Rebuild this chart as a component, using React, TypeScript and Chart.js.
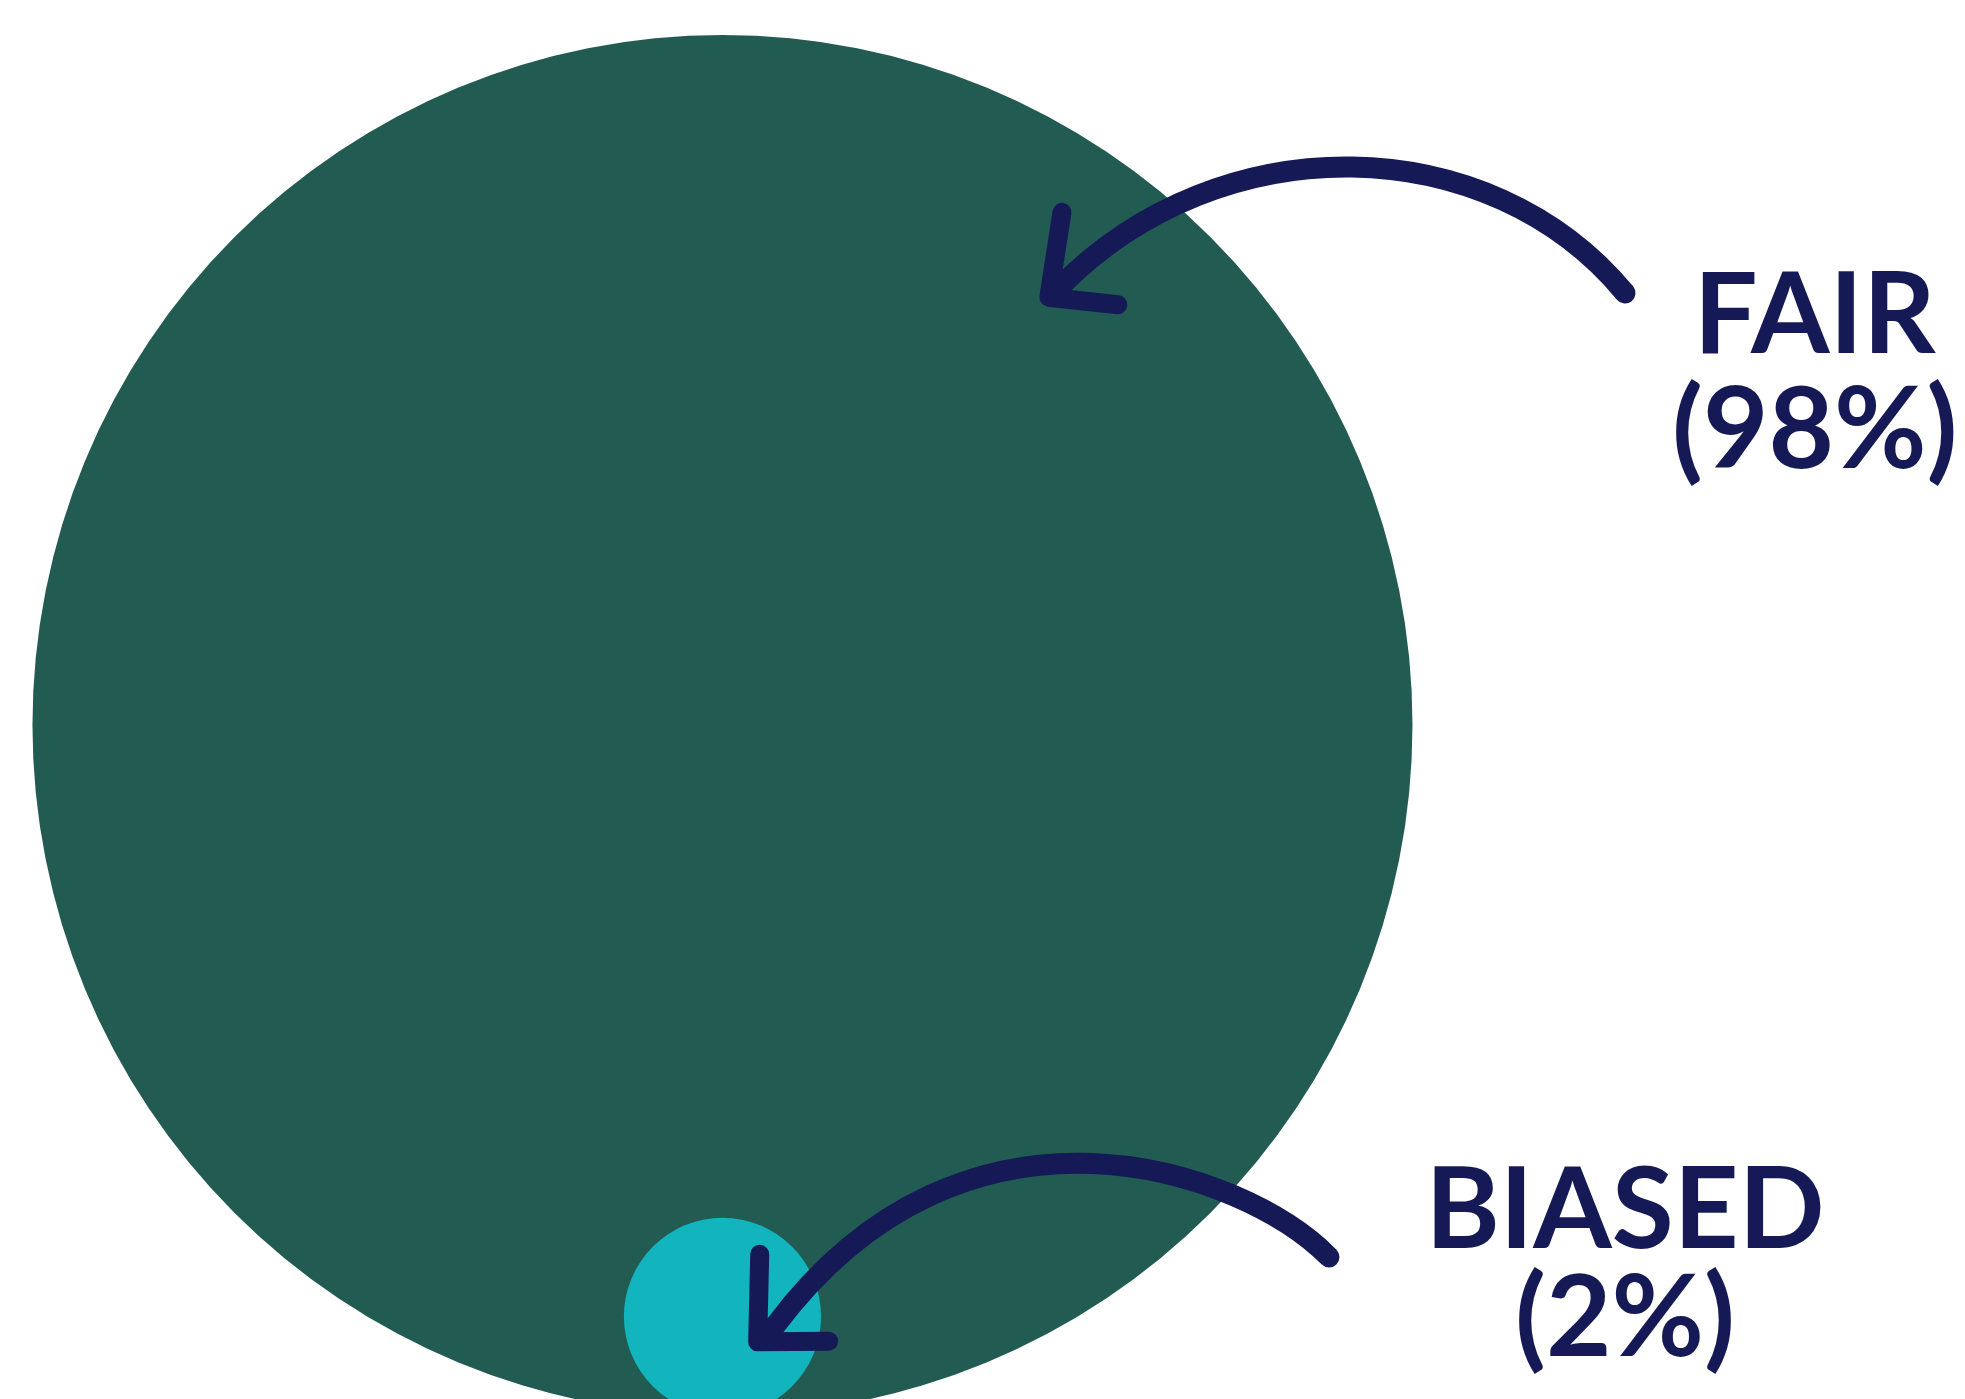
import React, { useEffect, useRef } from "react";
import { Chart, registerables } from "chart.js";

Chart.register(...registerables);

// ---- data ----
const categories = ["FAIR", "BIASED"];
const shares = [98, 2];
const labelLines = [
  ["FAIR", "(98%)"],
  ["BIASED", "(2%)"],
];

// ---- styles ----
const bubbleColors = ["#225B51", "#12B5BE"];
const inkColor = "#151A56";
const fontFamily = "Lato, 'Noto Sans', sans-serif";

// ---- scale ranges (data units: 1 unit = radius of the largest bubble) ----
const X_MIN = -1.047;
const X_MAX = 1.8007;
const Y_MIN = 0.0232;
const Y_MAX = 2.0507;

// ---- annotation geometry, in scale (data) units ----
// shaft: cubic bezier [p0, c1, c2, p3]; head: [upEnd, corner, sideEnd]; label: [x, baseline1, baseline2]
const arrows = [
  {
    shaft: [[1.308, 1.626], [1.111, 1.864], [0.7225, 1.872], [0.489, 1.635]],
    head: [[0.492, 1.743], [0.473, 1.62], [0.573, 1.609]],
    label: [1.583, 1.539, 1.372],
  },
  {
    shaft: [[0.879, 0.229], [0.756, 0.354], [0.353, 0.499], [0.076, 0.129]],
    head: [[0.054, 0.233], [0.051, 0.106], [0.154, 0.107]],
    label: [1.308, 0.242, 0.0855],
  },
];

const annotationPlugin = {
  id: "annotations",
  afterDatasetsDraw(chart: any) {
    const { ctx } = chart;
    const xs = chart.scales.x;
    const ys = chart.scales.y;
    const P = (p: number[]) => [xs.getPixelForValue(p[0]), ys.getPixelForValue(p[1])];
    ctx.save();
    ctx.strokeStyle = inkColor;
    ctx.fillStyle = inkColor;
    ctx.lineCap = "round";
    ctx.lineJoin = "round";
    arrows.forEach((a, i) => {
      const [p0, c1, c2, p3] = a.shaft.map(P);
      ctx.lineWidth = 21;
      ctx.beginPath();
      ctx.moveTo(p0[0], p0[1]);
      ctx.bezierCurveTo(c1[0], c1[1], c2[0], c2[1], p3[0], p3[1]);
      ctx.stroke();
      const [h0, h1, h2] = a.head.map(P);
      ctx.lineWidth = 19;
      ctx.beginPath();
      ctx.moveTo(h0[0], h0[1]);
      ctx.lineTo(h1[0], h1[1]);
      ctx.lineTo(h2[0], h2[1]);
      ctx.stroke();
      // label
      const lx = xs.getPixelForValue(a.label[0]);
      ctx.font = `bold 113px ${fontFamily}`;
      ctx.textAlign = "center";
      ctx.textBaseline = "alphabetic";
      ctx.fillText(labelLines[i][0], lx, ys.getPixelForValue(a.label[1]));
      ctx.fillText(labelLines[i][1], lx, ys.getPixelForValue(a.label[2]));
    });
    ctx.restore();
  },
};

export default function App() {
  const canvasRef = useRef<HTMLCanvasElement | null>(null);

  useEffect(() => {
    let chart: Chart | null = null;
    let cancelled = false;
    const maxShare = Math.max(...shares);
    const build = () => {
      if (cancelled || !canvasRef.current) return;
      chart = new Chart(canvasRef.current, {
        type: "bubble",
        data: {
          labels: categories,
          datasets: [
            {
              label: "Share",
              // area-proportional bubbles, all resting on the y = 0 baseline
              data: shares.map((v) => ({ x: 0, y: Math.sqrt(v / maxShare) })),
              backgroundColor: bubbleColors,
              borderWidth: 0,
              radius: (c: any) => {
                if (!c.raw) return 0;
                // chart area == full canvas height (no axes, no padding)
                const pxPerUnit = c.chart.height / (Y_MAX - Y_MIN);
                return c.raw.y * pxPerUnit;
              },
            } as any,
          ],
        },
        options: {
          animation: false,
          responsive: true,
          maintainAspectRatio: false,
          events: [],
          layout: { padding: 0, autoPadding: false },
          plugins: { legend: { display: false }, tooltip: { enabled: false } },
          scales: {
            x: { type: "linear", min: X_MIN, max: X_MAX, display: false },
            y: { type: "linear", min: Y_MIN, max: Y_MAX, display: false },
          },
        },
        plugins: [annotationPlugin],
      });
    };
    const fonts: any = (document as any).fonts;
    if (fonts && fonts.load) {
      fonts.load(`bold 113px Lato`).then(build, build);
    } else {
      build();
    }
    return () => {
      cancelled = true;
      if (chart) chart.destroy();
    };
  }, []);

  return (
    <div
      style={{
        position: "fixed",
        left: 0,
        top: 0,
        width: "100vw",
        height: "100vh",
        background: "#ffffff",
      }}
    >
      <canvas ref={canvasRef} />
    </div>
  );
}
